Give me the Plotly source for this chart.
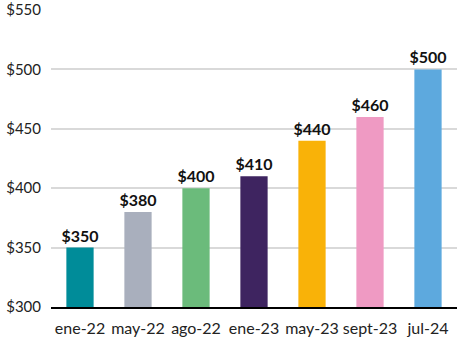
import plotly.graph_objects as go

categories = ["ene-22", "may-22", "ago-22", "ene-23", "may-23", "sept-23", "jul-24"]
values = [350, 380, 400, 410, 440, 460, 500]
colors = ["#008C99", "#A9AFBD", "#6BBB7B", "#3E2460", "#F9B208", "#EF9AC3", "#5DA9DE"]
y_ticks = [300, 350, 400, 450, 500, 550]

fig = go.Figure(go.Bar(
    x=categories, y=values,
    marker=dict(color=colors, line=dict(width=0)),
    width=0.47,
    text=[f"<b>${v}</b>" for v in values],
    textposition="outside",
    constraintext="none",
    textfont=dict(family="Lato", size=16, color="#111111"),
    cliponaxis=False,
))

fig.update_layout(
    width=457, height=342,
    margin=dict(l=51, r=0, t=10, b=35),
    plot_bgcolor="white", paper_bgcolor="white",
    showlegend=False,
    font=dict(family="Lato", size=14, color="#222222"),
    bargap=0.53,
)
fig.update_xaxes(showgrid=False, showline=True, linecolor="black", linewidth=1.5,
                 ticks="", tickfont=dict(size=16), ticklabelstandoff=6)
fig.update_yaxes(range=[300, 550], tickvals=y_ticks,
                 ticktext=[f"${t}" for t in y_ticks],
                 showgrid=True, gridcolor="#D9D9D9", gridwidth=1.5,
                 zeroline=False, ticks="", ticklabelstandoff=9, tickfont=dict(size=15))

fig.write_html("out.html")
